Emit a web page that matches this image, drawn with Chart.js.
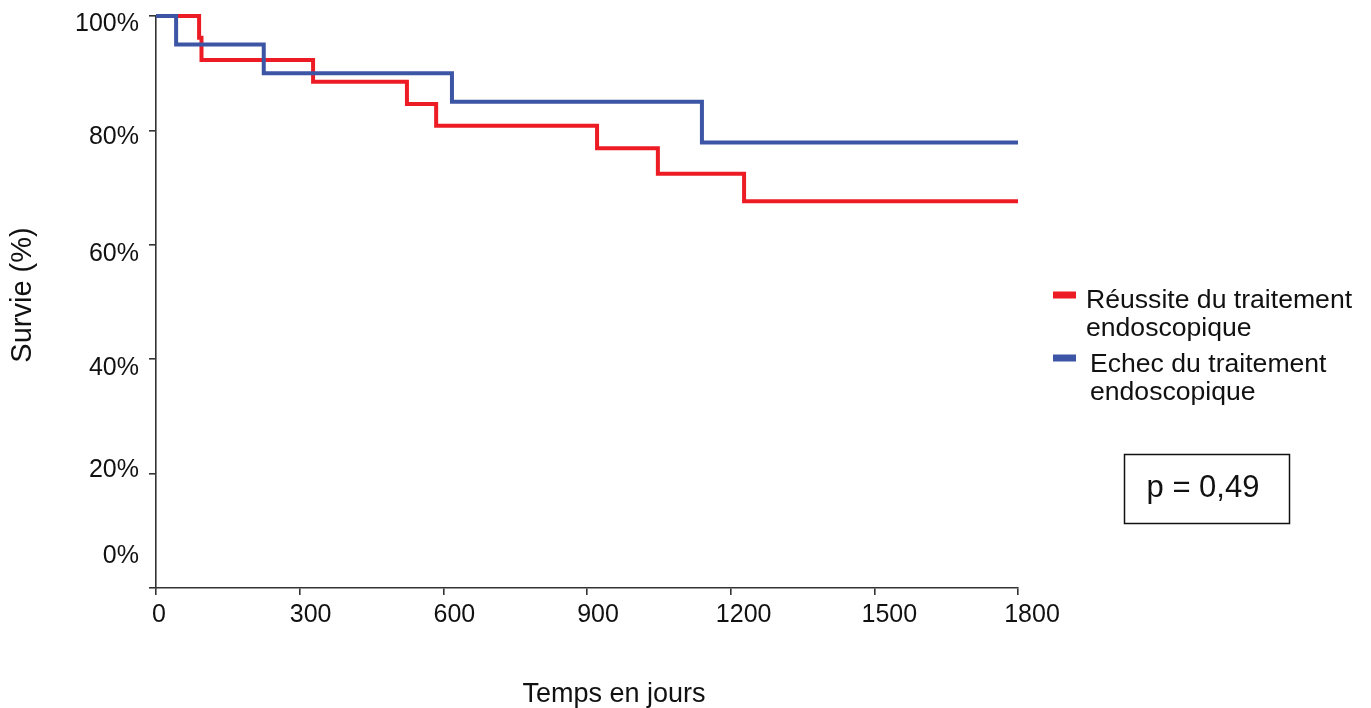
<!DOCTYPE html>
<html>
<head>
<meta charset="utf-8">
<script src="https://cdn.jsdelivr.net/npm/chart.js@4"></script>
<style>
  body { margin: 0; background: #fff; }
  #wrap { width: 1371px; height: 708px; position: relative; }
</style>
</head>
<body>
<div id="wrap"><canvas id="kmChart"></canvas></div>
<script>
// Kaplan-Meier steps (days, survival %)
const reussiteDays = [0, 90, 95, 328, 524, 585, 921, 1048, 1228, 1800];
const reussiteSurv = [100, 96.2, 92.3, 88.5, 84.6, 80.8, 76.9, 72.4, 67.6, 67.6];
const echecDays = [0, 42, 225, 618, 1140, 1800];
const echecSurv = [100, 95, 90, 85, 77.9, 77.9];

const xTicks = [0, 300, 600, 900, 1200, 1500, 1800];
const yTicks = [0, 20, 40, 60, 80, 100];
const reussiteLabel = ['Réussite du traitement', 'endoscopique'];
const echecLabel = ['Echec du traitement', 'endoscopique'];
const pValueText = 'p = 0,49';
const xTitle = 'Temps en jours';
const yTitle = 'Survie (%)';

const FONT = '"Liberation Sans", Arial, Helvetica, sans-serif';
const RED = '#ed1c24';
const BLUE = '#3c55a5';
const INK = '#111';

function toPoints(xs, ys) {
  return xs.map((x, i) => ({ x: x, y: ys[i] }));
}

// tick labels, titles, legend and p-value box
const extras = {
  id: 'extras',
  afterDraw(chart) {
    const ctx = chart.ctx;
    const xs = chart.scales.x;
    const ys = chart.scales.y;
    ctx.save();
    ctx.fillStyle = INK;

    // y tick labels (the original sits them a bit off the ticks)
    const yShift = [-32, -3, 9, 9, 7, 8];
    ctx.font = '25px ' + FONT;
    ctx.textAlign = 'right';
    ctx.textBaseline = 'middle';
    yTicks.forEach((v, i) => {
      ctx.fillText(v + '%', 139, ys.getPixelForValue(v) + yShift[i]);
    });

    // x tick labels
    const xShift = [3, 11, 11, 11, 13, 15, 14];
    ctx.textAlign = 'center';
    ctx.textBaseline = 'alphabetic';
    xTicks.forEach((v, i) => {
      ctx.fillText(String(v), xs.getPixelForValue(v) + xShift[i], 622);
    });

    // axis titles
    ctx.font = '27px ' + FONT;
    ctx.fillText(xTitle, 614, 702);
    ctx.save();
    ctx.translate(31, 295);
    ctx.rotate(-Math.PI / 2);
    ctx.font = '29px ' + FONT;
    ctx.fillText(yTitle, 0, 0);
    ctx.restore();

    // legend
    const items = [
      { ds: 0, markY: 295, textX: 1086, base: 308 },
      { ds: 1, markY: 358, textX: 1090, base: 372 }
    ];
    ctx.font = '26.6px ' + FONT;
    ctx.textAlign = 'left';
    items.forEach(it => {
      const ds = chart.data.datasets[it.ds];
      ctx.fillStyle = ds.borderColor;
      ctx.fillRect(1053, it.markY - 3.5, 23, 7);
      ctx.fillStyle = INK;
      ds.label.forEach((line, k) => {
        ctx.fillText(line, it.textX, it.base + k * 27.5);
      });
    });

    // p-value box
    ctx.strokeStyle = INK;
    ctx.lineWidth = 1.5;
    ctx.strokeRect(1124.5, 454.5, 165, 69);
    ctx.font = '31px ' + FONT;
    ctx.textAlign = 'center';
    ctx.fillText(pValueText, 1203, 497);

    ctx.restore();
  }
};

const ctx = document.getElementById('kmChart').getContext('2d');
new Chart(ctx, {
  type: 'line',
  data: {
    datasets: [
      {
        label: reussiteLabel,
        data: toPoints(reussiteDays, reussiteSurv),
        borderColor: RED,
        borderWidth: 4,
        stepped: true,
        pointRadius: 0,
        fill: false,
        clip: 10,
        order: 2
      },
      {
        label: echecLabel,
        data: toPoints(echecDays, echecSurv),
        borderColor: BLUE,
        borderWidth: 4,
        stepped: true,
        pointRadius: 0,
        fill: false,
        clip: 10,
        order: 1
      }
    ]
  },
  options: {
    responsive: true,
    maintainAspectRatio: false,
    animation: false,
    layout: { padding: { top: 16, right: 353, bottom: 0, left: 0 } },
    plugins: {
      legend: { display: false },
      tooltip: { enabled: false }
    },
    scales: {
      x: {
        type: 'linear',
        min: 0,
        max: 1800,
        ticks: { stepSize: 300, display: false },
        grid: { drawOnChartArea: false, drawTicks: true, tickLength: 7, color: '#333', lineWidth: 1.6 },
        border: { display: true, color: '#333', width: 1.6 },
        afterFit: function (scale) { scale.height = 120; }
      },
      y: {
        min: 0,
        max: 100,
        ticks: { stepSize: 20, display: false },
        grid: { drawOnChartArea: false, drawTicks: true, tickLength: 7, color: '#333', lineWidth: 1.6 },
        border: { display: true, color: '#333', width: 1.6 },
        afterFit: function (scale) { scale.width = 156; }
      }
    }
  },
  plugins: [extras]
});
</script>
</body>
</html>
